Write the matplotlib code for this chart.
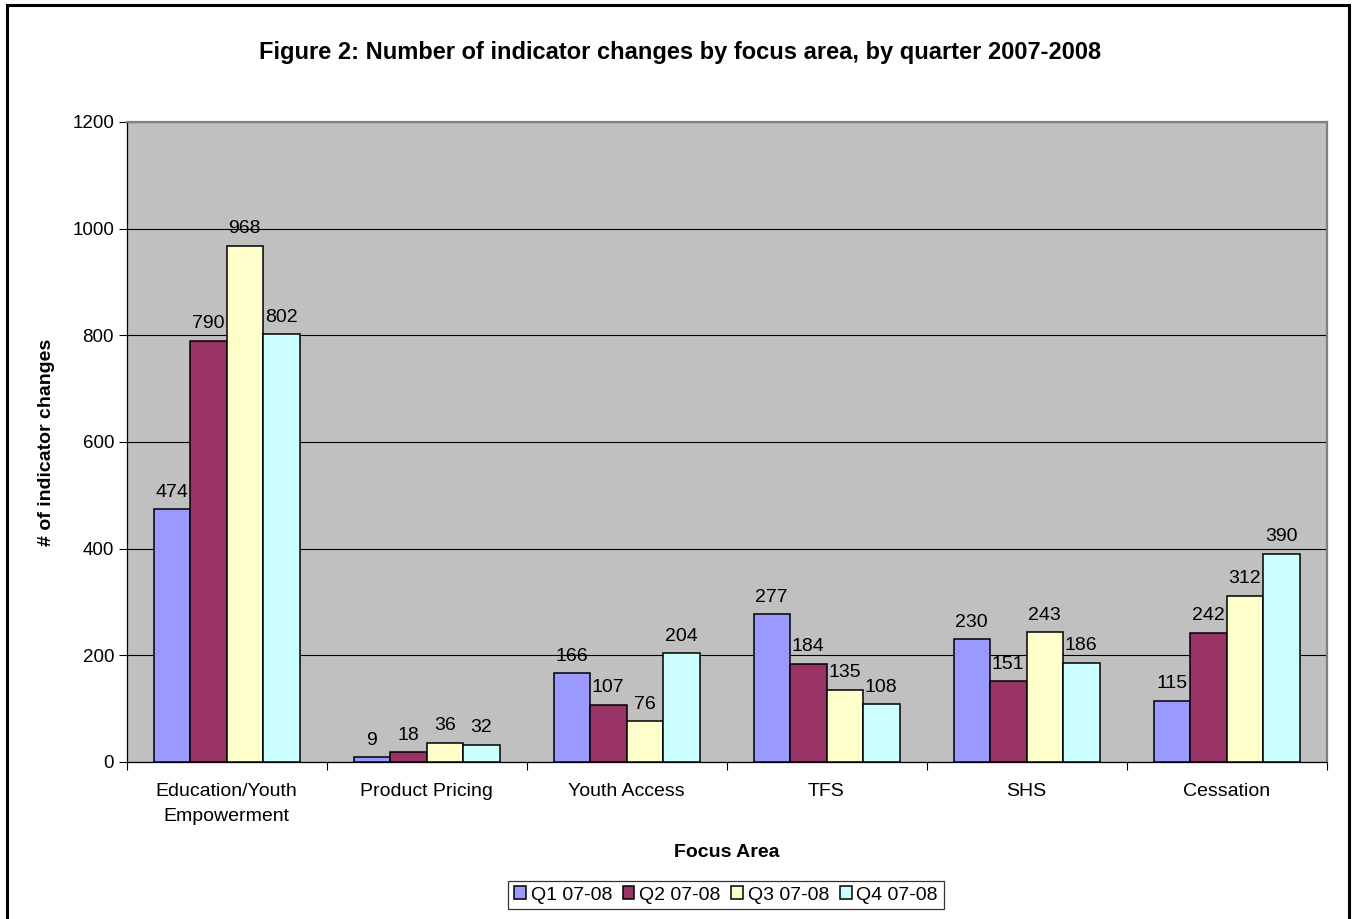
import matplotlib
matplotlib.use("Agg")
import matplotlib.pyplot as plt
import numpy as np
from matplotlib.patches import Rectangle

plt.rcParams['font.family'] = ['Liberation Sans', 'DejaVu Sans']

categories = ["Education/Youth\nEmpowerment", "Product Pricing", "Youth Access",
              "TFS", "SHS", "Cessation"]
series_names = ["Q1 07-08", "Q2 07-08", "Q3 07-08", "Q4 07-08"]
q1 = [474, 9, 166, 277, 230, 115]
q2 = [790, 18, 107, 184, 151, 242]
q3 = [968, 36, 76, 135, 243, 312]
q4 = [802, 32, 204, 108, 186, 390]
colors = ["#9999FF", "#993366", "#FFFFCC", "#CCFFFF"]

fig = plt.figure(figsize=(13.56, 9.19), dpi=100)
# outer frame
fig.patches.append(Rectangle((0.005, -0.01), 0.99, 1.0045, transform=fig.transFigure,
                             fill=False, edgecolor="black", linewidth=2.2))

ax = fig.add_axes([126.5 / 1356, 1 - 762 / 919, 1200 / 1356, 640 / 919])
ax.set_facecolor("#C0C0C0")

n = len(categories)
x = np.arange(n)
w = 0.1825
fs = 14
for i, (vals, c, name) in enumerate(zip([q1, q2, q3, q4], colors, series_names)):
    pos = x + (i - 1.5) * w
    ax.bar(pos, vals, width=w, color=c, edgecolor="black", linewidth=1.1,
           label=name, zorder=3)
    for p, v in zip(pos, vals):
        ax.text(p, v + 16, str(v), ha="center", va="bottom", fontsize=fs, zorder=4)

ax.set_xlim(-0.5, n - 0.5)
ax.set_ylim(0, 1200)
ax.set_yticks(np.arange(0, 1201, 200))
ax.yaxis.grid(True, color="black", linewidth=0.8, zorder=1)
ax.set_axisbelow(True)

ax.set_xticks(x)
ax.set_xticklabels(categories, fontsize=fs, linespacing=1.6)
ax.tick_params(axis="x", length=0, pad=15)
ax.set_xticks(np.arange(-0.5, n, 1), minor=True)
ax.tick_params(axis="x", which="minor", length=6, width=0.8, direction="out")
ax.tick_params(axis="y", labelsize=fs - 0.5, length=6, width=0.8, direction="out", pad=3)

for s in ["left", "bottom"]:
    ax.spines[s].set_color("black")
    ax.spines[s].set_linewidth(0.9)
for s in ["top", "right"]:
    ax.spines[s].set_color("#808080")
    ax.spines[s].set_linewidth(1.6)

ax.set_ylabel("# of indicator changes", fontsize=fs, fontweight="bold", labelpad=12)
ax.set_xlabel("Focus Area", fontsize=fs, fontweight="bold", labelpad=14)

fig.text(680 / 1356, 1 - 52 / 919,
         "Figure 2: Number of indicator changes by focus area, by quarter 2007-2008",
         ha="center", va="center", fontsize=17, fontweight="bold")

leg = fig.legend(loc="center", bbox_to_anchor=(726 / 1356, 1 - 895 / 919), ncol=4,
                 fontsize=fs, frameon=True, fancybox=False, edgecolor="black",
                 handlelength=0.6, handleheight=0.6, handletextpad=0.25,
                 columnspacing=0.55, borderpad=0.3)
leg.get_frame().set_linewidth(0.9)

fig.savefig("out.png", dpi=100, facecolor="white")
